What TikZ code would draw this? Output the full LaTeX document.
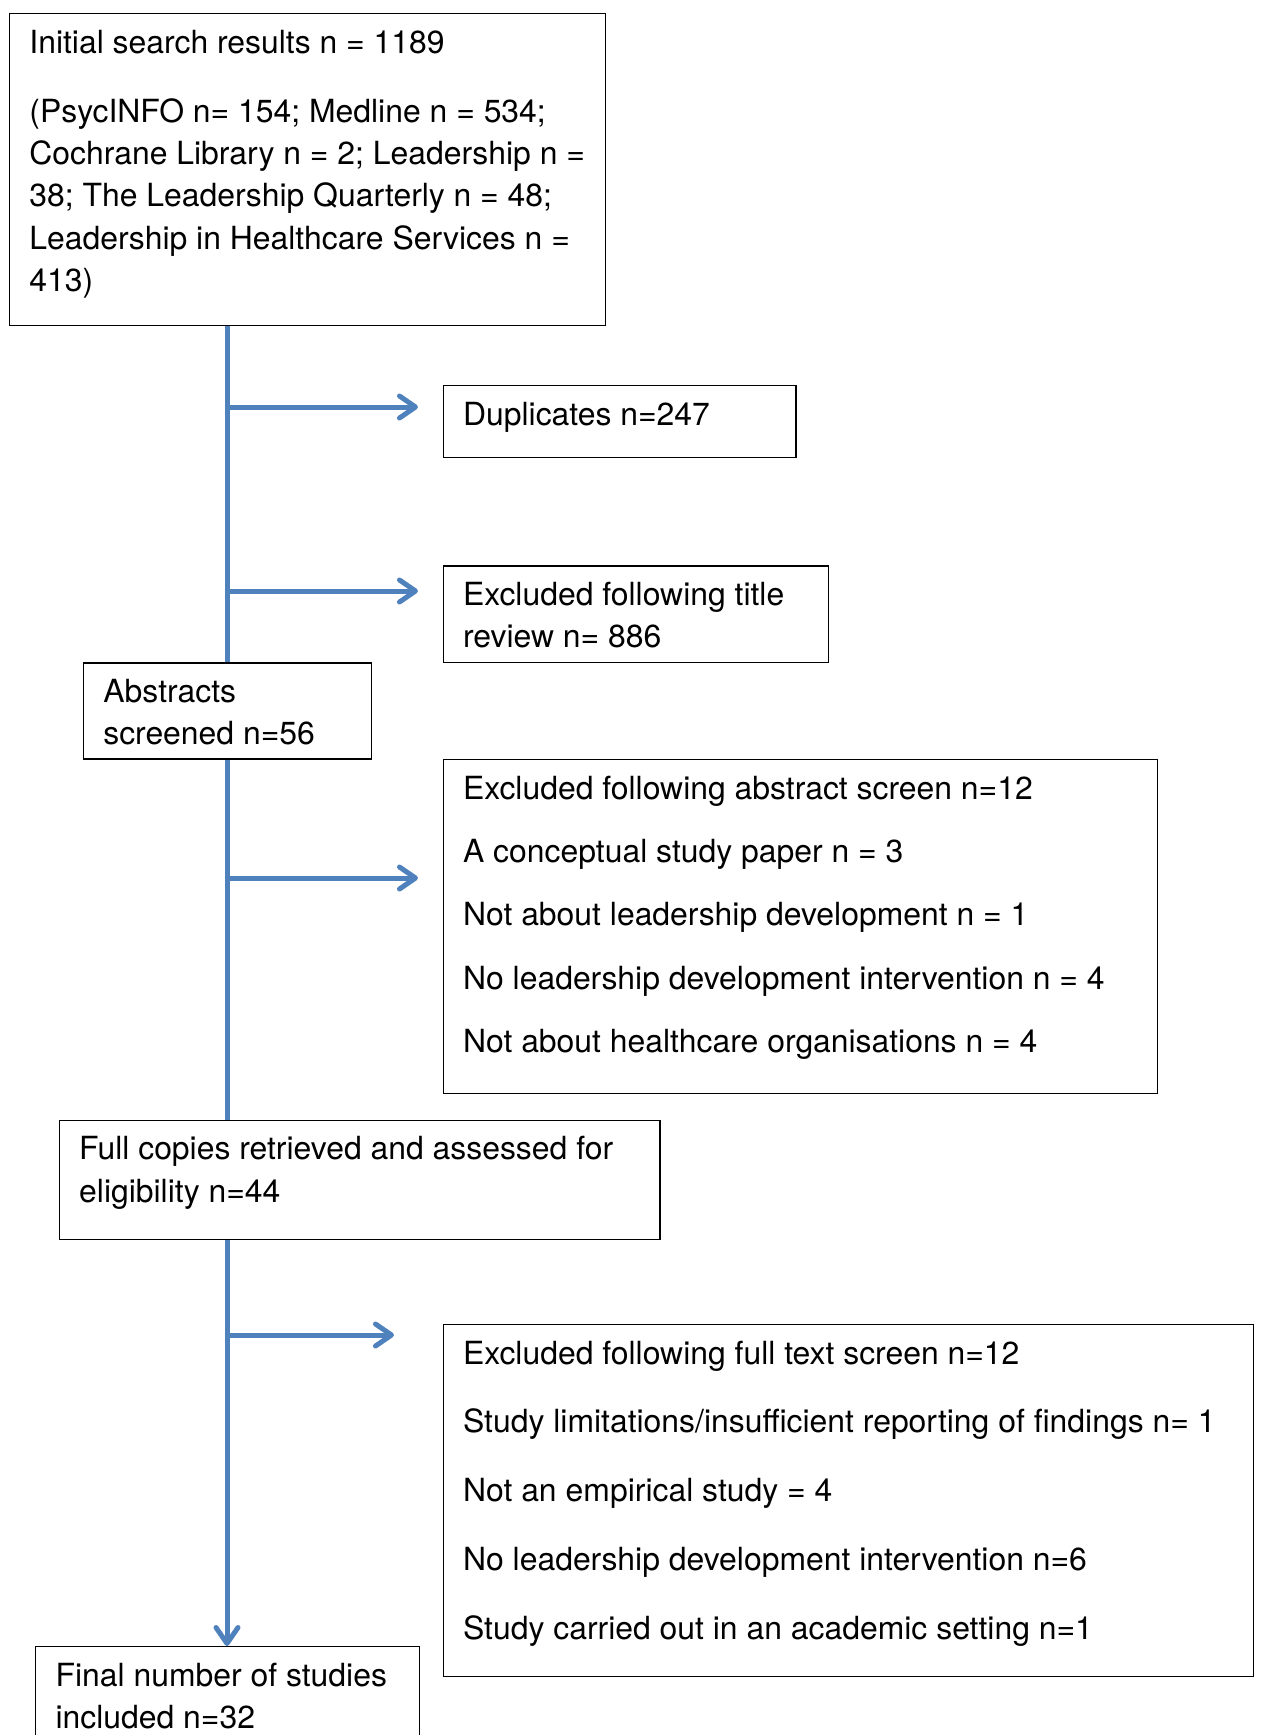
\documentclass[tikz,border=0pt]{standalone}
\usepackage{fontspec}
\setmainfont{TeX Gyre Heros}
\usetikzlibrary{arrows.meta}
\definecolor{flowblue}{RGB}{79,129,189}
\newcommand\StageText[3]{%
  \parbox[c][#2][t]{#1}{\raggedright\leftskip=10pt\rule{0pt}{19.85pt}#3}%
}
\tikzset{
  >={Straight Barb[length=8pt,width=11pt,round]},
  stage box/.style={draw,line width=0.6pt,anchor=north west,inner sep=0pt,
    font=\fontsize{15.95pt}{21.15pt}\selectfont},
  flow line/.style={draw=flowblue,line width=2.5pt}
}

\begin{document}
\begin{tikzpicture}[x=0.5pt,y=-0.5pt]

	% page frame (pixel units, origin top left)
	\useasboundingbox (0,0) rectangle (1260,1735);

	% stages down the left
	\node[stage box] (init) at (8.8,13) {\StageText{298.1pt}{156pt}{%
	    Initial search results n = 1189\\[13.35pt]
	    (PsycINFO n= 154; Medline n = 534;\\
	    Cochrane Library n = 2; Leadership n =\\
	    38; The Leadership Quarterly n = 48;\\
	    Leadership in Healthcare Services n =\\
	    413)}};
	\node[stage box] (abstracts) at (82.7,662.3) {\StageText{144.15pt}{48pt}{%
	    Abstracts\\ screened n=56}};
	\node[stage box] (fullcopies) at (58.6,1119.5) {\StageText{300.35pt}{59.75pt}{%
	    Full copies retrieved and assessed for\\ eligibility n=44}};
	\node[stage box] (final) at (35,1646) {\StageText{192pt}{48pt}{%
	    Final number of studies\\ included n=32}};

	% exclusions on the right
	\node[stage box] (duplicates) at (442.5,385) {\StageText{176.45pt}{36pt}{%
	    Duplicates n=247}};
	\node[stage box] (titleexcl) at (442.5,565.3) {\StageText{192.5pt}{48.2pt}{%
	    Excluded following title\\ review n= 886}};
	\node[stage box] (abstractexcl) at (442.5,758.9) {\StageText{357.3pt}{167pt}{%
	    Excluded following abstract screen n=12\\[10.5pt]
	    A conceptual study paper n = 3\\[10.5pt]
	    Not about leadership development n = 1\\[10.5pt]
	    No leadership development intervention n = 4\\[10.5pt]
	    Not about healthcare organisations n = 4}};
	\node[stage box] (fulltextexcl) at (442.5,1323.7) {\StageText{405.25pt}{176.15pt}{%
	    Excluded following full text screen n=12\\[13.25pt]
	    Study limitations/insufficient reporting of findings n= 1\\[13.25pt]
	    Not an empirical study = 4\\[13.25pt]
	    No leadership development intervention n=6\\[13.25pt]
	    Study carried out in an academic setting n=1}};

	% spine and arrow ends
	\coordinate (spine) at (227,0);
	\coordinate (dupend) at (418,407);
	\coordinate (titleend) at (418,591);
	\coordinate (abstractend) at (418,878);
	\coordinate (fulltextend) at (394,1335);

	\draw[flow line] (init.south -| spine) -- (abstracts.north -| spine);
	\draw[flow line] (abstracts.south -| spine) -- (fullcopies.north -| spine);
	\draw[flow line,->] (fullcopies.south -| spine) -- (final.north -| spine);

	\draw[flow line,->] (spine |- dupend) -- (dupend);
	\draw[flow line,->] (spine |- titleend) -- (titleend);
	\draw[flow line,->] (spine |- abstractend) -- (abstractend);
	\draw[flow line,->] (spine |- fulltextend) -- (fulltextend);

\end{tikzpicture}
\end{document}
